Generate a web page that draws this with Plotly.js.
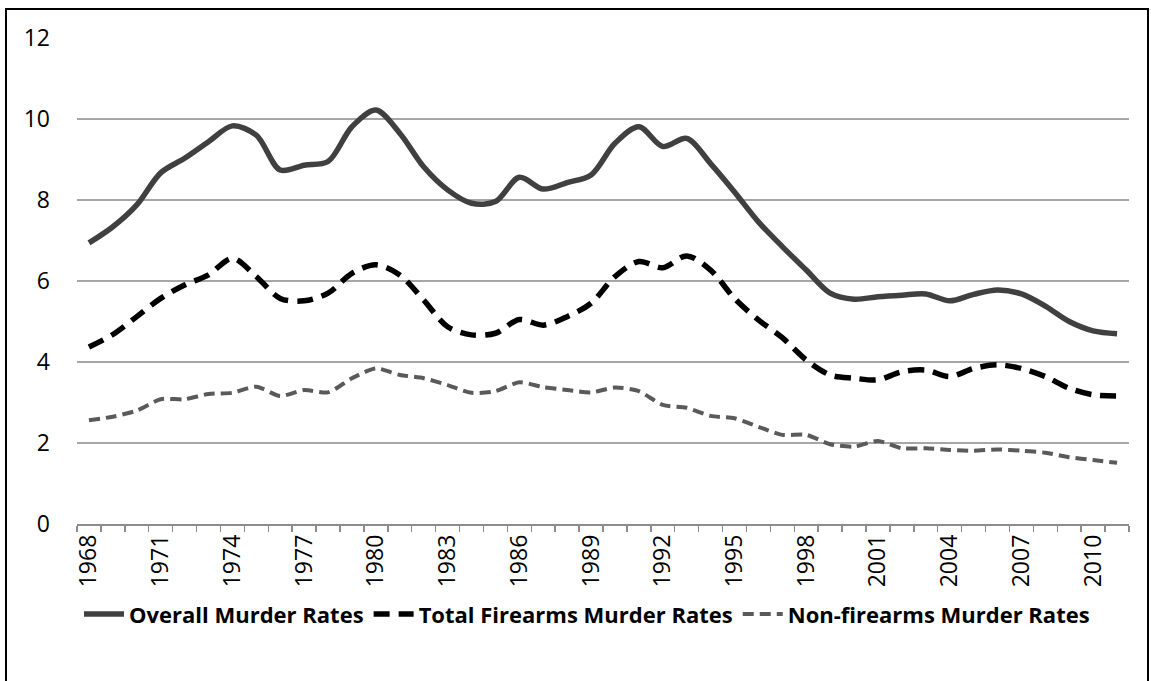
<!DOCTYPE html>
<html>
<head>
<meta charset="utf-8">
<script src="https://cdn.plot.ly/plotly-3.0.1.min.js"></script>
<style>
  html, body { margin: 0; padding: 0; background: #ffffff; }
  #chart { width: 1151px; height: 681px; position: relative; }
  #frame { position: absolute; left: 5px; top: 8px; width: 1144px; height: 680px;
           border: 2px solid #000; pointer-events: none; box-sizing: border-box; }
</style>
</head>
<body>
<div id="chart"></div>
<div id="frame"></div>
<script>
const years = ["1968","1969","1970","1971","1972","1973","1974","1975","1976","1977","1978","1979",
  "1980","1981","1982","1983","1984","1985","1986","1987","1988","1989","1990","1991","1992","1993",
  "1994","1995","1996","1997","1998","1999","2000","2001","2002","2003","2004","2005","2006","2007",
  "2008","2009","2010","2011"];

const tickLabels = ["1968","","","1971","","","1974","","","1977","","","1980","","","1983","","",
  "1986","","","1989","","","1992","","","1995","","","1998","","","2001","","","2004","","",
  "2007","","","2010",""];

const overallRates = [6.94,7.34,7.88,8.67,9.03,9.44,9.83,9.6,8.74,8.86,8.95,9.81,
  10.22,9.65,8.82,8.25,7.92,7.96,8.56,8.27,8.43,8.62,9.4,9.81,9.32,9.52,
  8.9,8.2,7.46,6.85,6.27,5.7,5.55,5.61,5.65,5.68,5.51,5.67,5.78,5.68,
  5.38,5.0,4.77,4.7];

const firearmsRates = [4.37,4.68,5.12,5.57,5.9,6.15,6.56,6.11,5.57,5.51,5.7,6.19,
  6.4,6.15,5.53,4.87,4.67,4.71,5.05,4.91,5.12,5.45,6.11,6.48,6.33,6.62,
  6.27,5.57,5.04,4.6,4.05,3.68,3.6,3.56,3.76,3.8,3.64,3.84,3.93,3.84,
  3.64,3.35,3.19,3.16];

const nonFirearmsRates = [2.56,2.65,2.8,3.08,3.08,3.21,3.24,3.39,3.16,3.31,3.25,3.6,
  3.84,3.68,3.6,3.43,3.24,3.28,3.5,3.38,3.31,3.25,3.37,3.28,2.94,2.87,
  2.67,2.61,2.4,2.2,2.2,1.97,1.91,2.05,1.87,1.87,1.83,1.81,1.84,1.81,
  1.76,1.65,1.58,1.51];

const seriesNames = ["Overall Murder Rates", "Total Firearms Murder Rates", "Non-firearms Murder Rates"];

const traces = [
  { x: years, y: overallRates, name: seriesNames[0], type: "scatter", mode: "lines",
    line: { color: "#404040", width: 5.5, shape: "spline", smoothing: 0.9 } },
  { x: years, y: firearmsRates, name: seriesNames[1], type: "scatter", mode: "lines",
    line: { color: "#000000", width: 5.5, dash: "16px,9px", shape: "spline", smoothing: 0.9 } },
  { x: years, y: nonFirearmsRates, name: seriesNames[2], type: "scatter", mode: "lines",
    line: { color: "#5a5a5a", width: 4, dash: "11px,6px", shape: "spline", smoothing: 0.7 } }
];

const layout = {
  width: 1151, height: 681,
  margin: { l: 77, r: 22, t: 38, b: 157 },
  paper_bgcolor: "#ffffff", plot_bgcolor: "#ffffff",
  font: { family: "Open Sans, sans-serif", size: 23, color: "#000000" },
  showlegend: true,
  legend: {
    orientation: "h", xref: "container", yref: "container",
    x: 0.51, xanchor: "center", y: 0.098, yanchor: "middle",
    font: { family: "Open Sans, sans-serif", size: 22, color: "#000000", weight: "bold" },
    itemwidth: 40, tracegroupgap: 0, bgcolor: "rgba(0,0,0,0)"
  },
  xaxis: {
    type: "category",
    tickmode: "array", tickvals: years, ticktext: tickLabels,
    tickangle: -90, tickson: "boundaries",
    ticks: "outside", ticklen: 6, tickcolor: "#8c8c8c", tickwidth: 1.5,
    showline: true, linecolor: "#8c8c8c", linewidth: 1.5,
    showgrid: false, zeroline: false,
    tickfont: { family: "Open Sans, sans-serif", size: 23, color: "#000000" },
    range: [-0.5, 43.5], fixedrange: true
  },
  yaxis: {
    range: [0, 12], dtick: 2, tick0: 0,
    showgrid: true, gridcolor: "#a6a6a6", gridwidth: 1.2,
    zeroline: false, showline: false, ticks: "",
    ticklabelstandoff: 26,
    tickfont: { family: "Open Sans, sans-serif", size: 23, color: "#000000" },
    fixedrange: true
  }
};

Plotly.newPlot("chart", traces, layout, { displayModeBar: false, staticPlot: true });
</script>
</body>
</html>
